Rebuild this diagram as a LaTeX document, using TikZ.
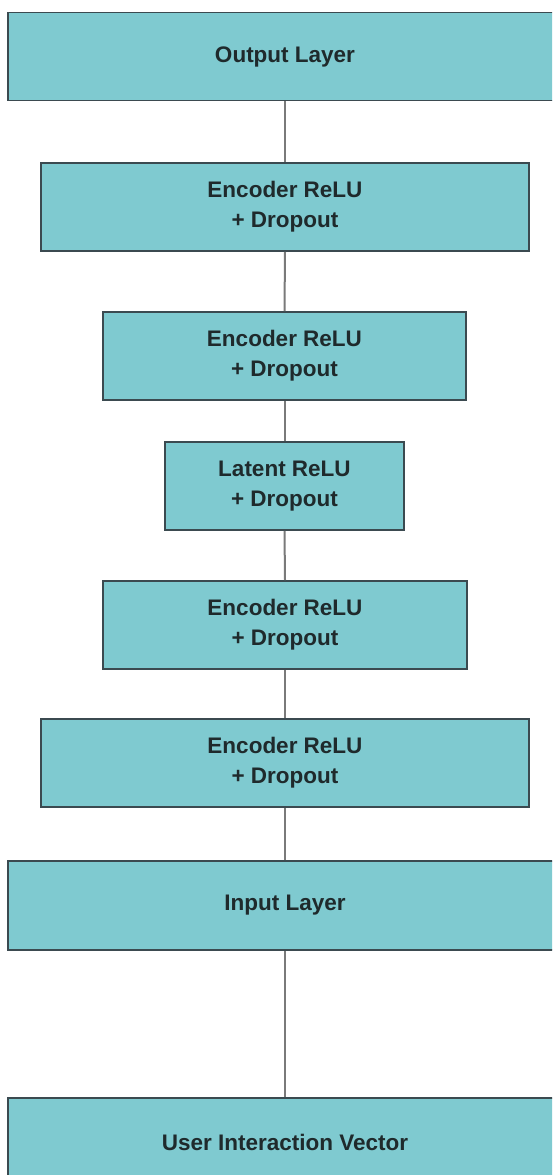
\documentclass[tikz,border=0pt]{standalone}
\usepackage{fontspec}
\setmainfont{Liberation Sans}
\begin{document}
\begin{tikzpicture}[x=1pt,y=-1pt,
  layer/.style={draw=boxedge, line width=1.8pt, fill=boxfill, rectangle,
    minimum height=88pt, inner sep=0pt, align=center, text=labeltext,
    font=\fontsize{22.5}{30}\selectfont\bfseries},
  link/.style={draw=linkgray, line width=2pt}]
  \definecolor{boxfill}{HTML}{7FCAD0}
  \definecolor{boxedge}{HTML}{3B4A50}
  \definecolor{linkgray}{HTML}{7A7A7A}
  \definecolor{labeltext}{HTML}{1F2A2C}
  \useasboundingbox (0,0) rectangle (552,1175);
  \clip (0,0) rectangle (552,1175);
  \fill[white] (0,0) rectangle (552,1175);

  % stack of layers, from output (top) to input vector (bottom)
  \node[layer, minimum width=554pt] (out) at (285,56.5) {Output Layer};
  \node[layer, minimum width=488pt] (e1) at (285,207) {Encoder ReLU\\+ Dropout};
  \node[layer, minimum width=363pt] (e2) at (284.5,356) {Encoder ReLU\\+ Dropout};
  \node[layer, minimum width=239pt] (lat) at (284.5,486) {Latent ReLU\\+ Dropout};
  \node[layer, minimum width=364pt] (e3) at (285,625) {Encoder ReLU\\+ Dropout};
  \node[layer, minimum width=488pt] (e4) at (285,763) {Encoder ReLU\\+ Dropout};
  \node[layer, minimum width=554pt, minimum height=89pt] (in) at (285,905.5) {Input Layer};
  \node[layer, minimum width=554pt] (uiv) at (285,1142) {User Interaction Vector};

  % plain links between consecutive layers
  \draw[link] (out.south) -- (e1.north);
  \draw[link] (e1.south) -- (e2.north);
  \draw[link] (e2.south) -- (lat.north);
  \draw[link] (lat.south) -- (e3.north);
  \draw[link] (e3.south) -- (e4.north);
  \draw[link] (e4.south) -- (in.north);
  \draw[link] (in.south) -- (uiv.north);
\end{tikzpicture}
\end{document}
